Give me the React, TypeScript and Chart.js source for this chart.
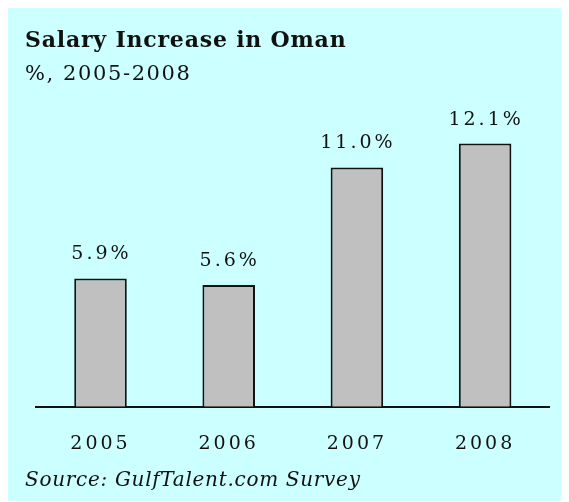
import React, { useEffect, useRef } from "react";
import { Chart, registerables } from "chart.js";

Chart.register(...registerables);

const categories = ["2005", "2006", "2007", "2008"];
const salaryIncrease = [5.9, 5.6, 11.0, 12.1];
const valueLabels = ["5.9%", "5.6%", "11.0%", "12.1%"];
const titleText = "Salary Increase in Oman";
const subtitleText = "%, 2005-2008";
const sourceText = "Source: GulfTalent.com Survey";

const FONT = "'DejaVu Serif', 'Liberation Serif', serif";
const INK = "#111111";
const PANEL = "#CCFFFF";

const textPlugin = {
  id: "textPlugin",
  beforeDraw(chart: any) {
    const ctx = chart.ctx;
    ctx.save();
    ctx.fillStyle = PANEL;
    ctx.fillRect(0, 0, chart.width, chart.height);
    ctx.restore();
    ctx.letterSpacing = "3px";
  },
  afterDatasetsDraw(chart: any) {
    const ctx = chart.ctx;
    const meta = chart.getDatasetMeta(0);
    ctx.save();
    ctx.letterSpacing = "3px";
    ctx.font = `19px ${FONT}`;
    ctx.fillStyle = INK;
    ctx.textAlign = "center";
    ctx.textBaseline = "alphabetic";
    meta.data.forEach((bar: any, i: number) => {
      ctx.fillText(valueLabels[i], bar.x + 1, bar.y - 19);
    });
    ctx.restore();
  },
  afterDraw(chart: any) {
    const ctx = chart.ctx;
    ctx.save();
    ctx.fillStyle = INK;
    ctx.textAlign = "left";
    ctx.textBaseline = "alphabetic";
    ctx.letterSpacing = "0.8px";
    ctx.font = `bold 22px ${FONT}`;
    ctx.fillText(titleText, 17, 39);
    ctx.letterSpacing = "1.6px";
    ctx.font = `21px ${FONT}`;
    ctx.fillText(subtitleText, 17, 72);
    ctx.letterSpacing = "0.7px";
    ctx.font = `italic 20px ${FONT}`;
    ctx.fillText(sourceText, 17, 478);
    ctx.restore();
    ctx.letterSpacing = "0px";
  },
};

export default function App() {
  const canvasRef = useRef<HTMLCanvasElement | null>(null);

  useEffect(() => {
    document.documentElement.style.overflow = "hidden";
    const canvas = canvasRef.current;
    if (!canvas) return;
    const chart = new Chart(canvas, {
      type: "bar",
      data: {
        labels: categories,
        datasets: [
          {
            data: salaryIncrease,
            backgroundColor: "#C0C0C0",
            borderColor: INK,
            borderWidth: 2,
            borderSkipped: "bottom",
            categoryPercentage: 1,
            barPercentage: 0.41,
          },
        ],
      },
      options: {
        animation: false,
        responsive: false,
        events: [],
        layout: {
          padding: { left: 28.4, right: 19.8, top: 94.2, bottom: 44.3 },
        },
        plugins: {
          legend: { display: false },
          tooltip: { enabled: false },
          title: { display: false },
        },
        scales: {
          x: {
            grid: { display: false, drawTicks: false },
            border: { display: true, color: INK, width: 2 },
            ticks: {
              color: INK,
              font: { family: FONT, size: 19 },
              padding: 25.5,
            },
            afterFit(scale: any) {
              scale.height = 50;
            },
          },
          y: {
            display: false,
            min: 0,
            max: 14,
          },
        },
      },
      plugins: [textPlugin],
    });
    return () => chart.destroy();
  }, []);

  return (
    <div style={{ width: 561, height: 493, background: PANEL }}>
      <canvas
        ref={canvasRef}
        width={561}
        height={493}
        style={{ display: "block", width: 561, height: 493, background: PANEL }}
      />
    </div>
  );
}
